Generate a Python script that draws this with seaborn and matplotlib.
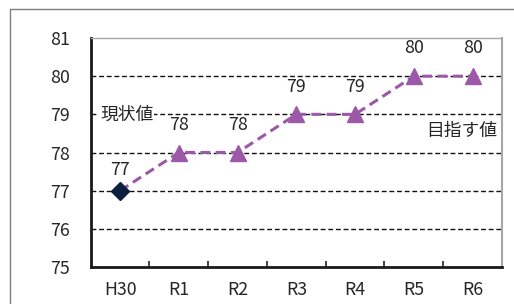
import matplotlib.pyplot as plt
import matplotlib.patches as mpatches
import pandas as pd
import seaborn as sns

years = ["H30", "R1", "R2", "R3", "R4", "R5", "R6"]
values = [77, 78, 78, 79, 79, 80, 80]
current_label = "現状値"
target_label = "目指す値"

PURPLE = "#9b59a8"
NAVY = "#0c1f3f"
TEXT = "#262626"
FS = 12.8

sns.set_style("white")
plt.rcParams["font.family"] = ["Noto Sans CJK JP", "DejaVu Sans"]

df = pd.DataFrame({"year": years, "value": values, "pos": range(len(years))})

fig = plt.figure(figsize=(5.14, 3.04), dpi=100)
# outer chart frame (cut off at right and bottom like the original)
fig.patches.append(mpatches.Rectangle((10 / 514, -0.1), 1.2, 1 - 9 / 304 + 0.1,
                                      transform=fig.transFigure, fill=False,
                                      edgecolor="#7f7f7f", linewidth=1.0))
ax = fig.add_axes([90.7 / 514, 1 - 267 / 304, 411.3 / 514, 229 / 304])

for yv in range(76, 81):
    ax.axhline(yv, color="#111111", linewidth=1.0, linestyle=(0, (3.5, 2)), zorder=1)

sns.lineplot(data=df, x="pos", y="value", ax=ax, color=PURPLE, linewidth=2.2,
             linestyle=(0, (3.2, 1.8)), zorder=3, legend=False)

cur = df.iloc[:1]
tgt = df.iloc[1:]
ax.plot(cur["pos"], cur["value"], linestyle="none", marker="D", markersize=9,
        color=NAVY, zorder=4)
ax.plot(tgt["pos"], tgt["value"], linestyle="none", marker="^", markersize=11,
        color=PURPLE, zorder=4)

for i, row in df.iterrows():
    off = 15 if i == 0 else 20
    ax.annotate(str(row["value"]), (row["pos"], row["value"]), xytext=(0, off),
                textcoords="offset points", ha="center", va="center",
                fontsize=FS, color=TEXT)

ax.text(-0.34, 79, current_label, ha="left", va="center", fontsize=FS,
        color=TEXT, zorder=5,
        bbox=dict(facecolor="white", edgecolor="none", pad=0.5))
ax.text(6.41, 78.56, target_label, ha="right", va="center", fontsize=FS,
        color=TEXT, zorder=5)

ax.set_xlim(-0.5, len(years) - 0.5)
ax.set_ylim(75, 81)
ax.set_yticks(range(75, 82))
ax.set_xticks(df["pos"])
ax.set_xticklabels(years)
ax.set_xticks([p + 0.5 for p in df["pos"][:-1]], minor=True)
ax.tick_params(axis="x", which="major", length=0, pad=10, labelsize=FS,
               labelcolor=TEXT)
ax.tick_params(axis="x", which="minor", direction="in", length=4, width=1.2,
               color="#222222", bottom=True)
ax.tick_params(axis="y", length=0, pad=15, labelsize=FS, labelcolor=TEXT)
ax.set_xlabel("")
ax.set_ylabel("")

ax.spines["left"].set_color("#1a1a1a")
ax.spines["left"].set_linewidth(2.0)
ax.spines["bottom"].set_color("#1a1a1a")
ax.spines["bottom"].set_linewidth(2.0)
ax.spines["right"].set_color("#a6a6a6")
ax.spines["right"].set_linewidth(1.5)
ax.spines["top"].set_color("#a6a6a6")
ax.spines["top"].set_linewidth(1.0)
ax.spines["top"].set_linestyle((0, (1, 1)))

fig.savefig("out.png", dpi=100)
